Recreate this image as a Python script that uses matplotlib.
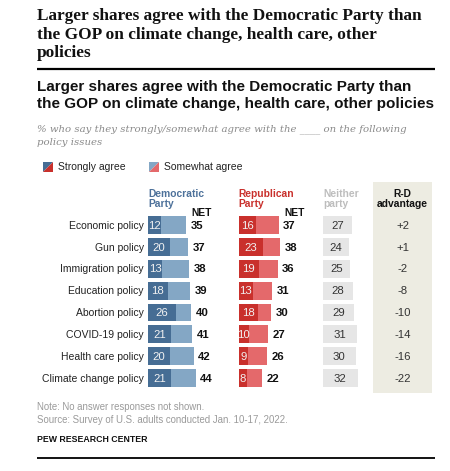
import numpy as np
import matplotlib.pyplot as plt
from matplotlib.patches import Polygon, Rectangle

# data
policies = ["Economic policy", "Gun policy", "Immigration policy", "Education policy",
            "Abortion policy", "COVID-19 policy", "Health care policy", "Climate change policy"]
dem_strong = [12, 20, 13, 18, 26, 21, 20, 21]
dem_net = [35, 37, 38, 39, 40, 41, 42, 44]
rep_strong = [16, 23, 19, 13, 18, 10, 9, 8]
rep_net = [37, 38, 36, 31, 30, 27, 26, 22]
neither = [27, 24, 25, 28, 29, 31, 30, 32]
rd_adv = ["+2", "+1", "-2", "-8", "-10", "-14", "-16", "-22"]

W, H = 450, 471
DEM_DARK, DEM_LIGHT = "#466d94", "#84a7c5"
REP_DARK, REP_LIGHT = "#c9302c", "#e4696b"
GRAY_BAR = "#e6e6e6"
BOX = "#edece2"
SANS = ["Liberation Sans", "DejaVu Sans"]
PX = 1.085  # pixels per percentage point

plt.rcParams['font.family'] = SANS

fig = plt.figure(figsize=(W / 100, H / 100), dpi=100)
ax0 = fig.add_axes([0, 0, 1, 1])
ax0.set_xlim(0, W)
ax0.set_ylim(H, 0)
ax0.axis("off")


def px_axes(left, top, width, height):
    a = fig.add_axes([left / W, 1 - (top + height) / H, width / W, height / H])
    a.set_xlim(0, width / PX)
    a.set_ylim(len(policies) - 0.5, -0.5)
    a.axis("off")
    return a


# titles
ax0.text(37, 8.5, "Larger shares agree with the Democratic Party than\nthe GOP on climate change, health care, other\npolicies",
         family=["Liberation Serif", "DejaVu Serif"], weight="bold", fontsize=12.45, va="top", ha="left",
         linespacing=1.2, color="#111111")
ax0.plot([37, 435], [68.5, 68.5], color="black", lw=1.6, solid_capstyle="butt")

ax0.text(37, 80.5, "Larger shares agree with the Democratic Party than\nthe GOP on climate change, health care, other policies",
         weight="bold", fontsize=10.95, va="top", ha="left", linespacing=1.2, color="#111111")
ax0.text(37, 124.5, "% who say they strongly/somewhat agree with the ____ on the following\npolicy issues",
         family=["DejaVu Serif"], style="italic", fontsize=7.3, va="top", ha="left",
         linespacing=1.6, color="#8a8a8a")

# legend
for x0, c1, c2, lab in [(43, DEM_DARK, REP_DARK, "Strongly agree"),
                        (149, DEM_LIGHT, REP_LIGHT, "Somewhat agree")]:
    ax0.add_patch(Polygon([(x0, 162), (x0 + 10, 162), (x0, 172)], closed=True, color=c1, lw=0))
    ax0.add_patch(Polygon([(x0 + 10, 162), (x0 + 10, 172), (x0, 172)], closed=True, color=c2, lw=0))
    ax0.text(x0 + 14.5, 167.5, lab, fontsize=7.5, va="center", ha="left", color="#222222")

# column headers
ax0.add_patch(Rectangle((373, 182), 59, 211, color=BOX, lw=0, zorder=0))
ax0.text(148, 199, "Democratic\nParty", weight="bold", fontsize=7.4, color="#4d719a",
         va="center", ha="left", linespacing=1.1)
ax0.text(238.5, 199, "Republican\nParty", weight="bold", fontsize=7.4, color=REP_DARK,
         va="center", ha="left", linespacing=1.1)
ax0.text(323, 199, "Neither\nparty", weight="bold", fontsize=7.4, color="#bdbdbd",
         va="center", ha="left", linespacing=1.1)
ax0.text(402, 199, "R-D\nadvantage", weight="bold", fontsize=7.4, color="#111111",
         va="center", ha="center", linespacing=1.1)
ax0.text(191, 213.5, "NET", weight="bold", fontsize=7.4, color="#111111", va="center", ha="left")
ax0.text(284, 213.5, "NET", weight="bold", fontsize=7.4, color="#111111", va="center", ha="left")

# bars
top, height = 214.1, 174.9
rows = np.arange(len(policies))
bh = 0.82

ax_d = px_axes(148, top, 85, height)
ax_r = px_axes(238.5, top, 80, height)
ax_n = px_axes(323, top, 45, height)
ax_a = px_axes(373, top, 59, height)
ax_l = px_axes(0, top, 144, height)

dem_some = [n - s for n, s in zip(dem_net, dem_strong)]
rep_some = [n - s for n, s in zip(rep_net, rep_strong)]

for ax, strong, some, net, dark, light in [(ax_d, dem_strong, dem_some, dem_net, DEM_DARK, DEM_LIGHT),
                                          (ax_r, rep_strong, rep_some, rep_net, REP_DARK, REP_LIGHT)]:
    ax.barh(rows, strong, height=bh, color=dark, lw=0)
    ax.barh(rows, some, left=strong, height=bh, color=light, lw=0)
    for i in rows:
        ax.text(strong[i] / 2, i + 0.03, str(strong[i]), color="#f2f2f2", fontsize=8.2,
                va="center", ha="center")
        ax.annotate(str(net[i]), (net[i], i + 0.03), xytext=(3.3, 0), textcoords="offset points",
                    weight="bold", fontsize=8.2, va="center", ha="left", color="#111111")

ax_n.barh(rows, neither, height=bh, color=GRAY_BAR, lw=0)
for i in rows:
    ax_n.text(neither[i] / 2, i + 0.03, str(neither[i]), fontsize=8.2, va="center",
              ha="center", color="#333333")
    ax_a.text(ax_a.get_xlim()[1] / 2, i + 0.03, rd_adv[i], fontsize=8.2, va="center",
              ha="center", color="#333333")
    ax_l.text(ax_l.get_xlim()[1], i + 0.03, policies[i], fontsize=7.45, va="center",
              ha="right", color="#222222")

# footer
ax0.text(37, 402, "Note: No answer responses not shown.\nSource: Survey of U.S. adults conducted Jan. 10-17, 2022.",
         fontsize=6.9, color="#9a9a9a", va="top", ha="left", linespacing=1.38)
ax0.text(37, 439.5, "PEW RESEARCH CENTER", weight="bold", fontsize=6.3, color="#111111",
         va="center", ha="left")
ax0.plot([37, 435], [458.3, 458.3], color="black", lw=1.3, solid_capstyle="butt")

fig.savefig("out.png", dpi=100)
